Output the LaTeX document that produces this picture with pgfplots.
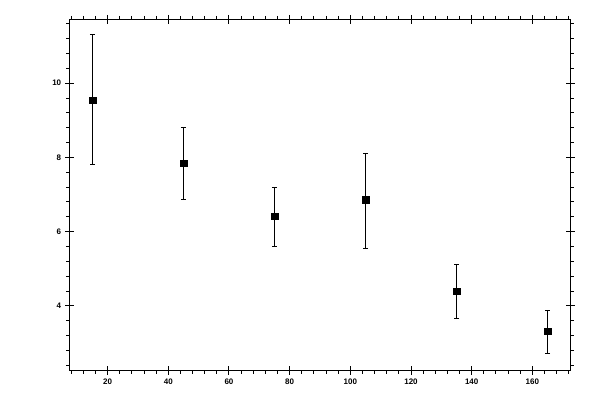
\documentclass[border=0pt]{standalone}
\usepackage{pgfplots}
\pgfplotsset{compat=1.18}
\usepackage{fontspec}
\setmainfont{Liberation Sans}
\begin{document}
\begin{tikzpicture}[x=1pt,y=1pt]
\path[use as bounding box] (0,0) rectangle (600,400);
\pgfplotsset{
  common/.style={
    at={(69.7pt,30pt)}, anchor=south west,
    scale only axis, width=500.6pt, height=350.7pt,
    xmin=7.5, xmax=172.5, ymin=2.275, ymax=11.72,
    axis line style={black, line width=1pt},
    tick style={black, line width=1pt},
    /pgf/number format/assume math mode=true,
    ticklabel style={font=\fontsize{8}{9}\selectfont\bfseries},
  }
}
\begin{axis}[common,
  xtick={20,40,...,160}, ytick={4,6,8,10},
  minor xtick={}, minor ytick={},
  tick align=center, major tick length=9pt,
  xticklabel style={yshift=-1pt},
  yticklabel style={xshift=-0.5pt},
]
\addplot[black, only marks, mark=square*, mark size=3.3pt,
  error bars/.cd, y dir=both, y explicit,
  error bar style={black, line width=1pt},
  error mark options={rotate=90, mark size=2.5pt, line width=1pt, black}]
coordinates {
  (15,9.54)  += (0,1.76)  -= (0,1.72)
  (45,7.84)  += (0,0.97)  -= (0,0.97)
  (75,6.415) += (0,0.785) -= (0,0.805)
  (105,6.855) += (0,1.255) -= (0,1.305)
  (135,4.40) += (0,0.71)  -= (0,0.73)
  (165,3.32) += (0,0.55)  -= (0,0.595)
};
\end{axis}
\begin{axis}[common,
  xtick={20,40,...,160}, ytick={4,6,8,10},
  xticklabels={}, yticklabels={},
  minor xtick={8,12,16,24,28,32,36,44,48,52,56,64,68,72,76,84,88,92,96,104,108,112,116,124,128,132,136,144,148,152,156,164,168,172},
  minor ytick={2.4,2.8,3.2,3.6,4.4,4.8,5.2,5.6,6.4,6.8,7.2,7.6,8.4,8.8,9.2,9.6,10.4,10.8,11.2,11.6},
  tick align=outside, major tick length=0pt, minor tick length=3.5pt,
]
\end{axis}
\end{tikzpicture}
\end{document}
